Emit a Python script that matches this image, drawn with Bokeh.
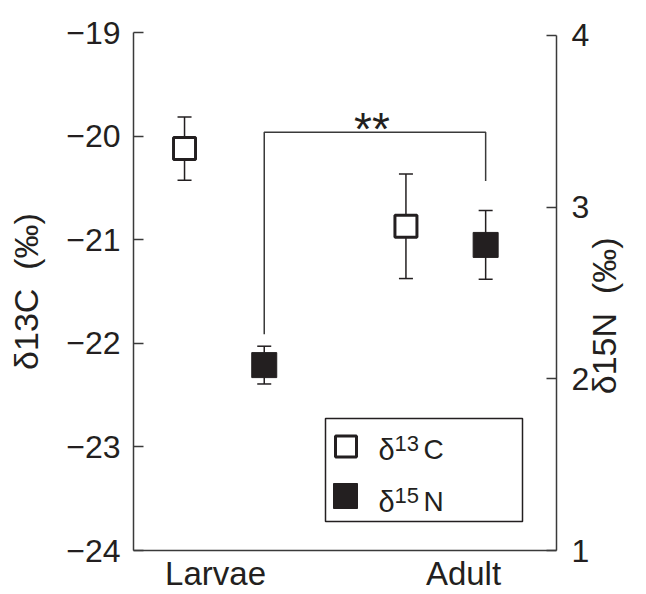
import math
from bokeh.plotting import figure
from bokeh.models import (Range1d, LinearAxis, FixedTicker, CustomJSTickFormatter,
                          Whisker, TeeHead, ColumnDataSource, Label, BoxAnnotation)
from bokeh.embed import file_html
from bokeh.resources import INLINE

# ---------------- data ----------------
categories = ["Larvae", "Adult"]
c13_mean = [-20.12, -20.87]      # δ13C (‰), left axis
c13_se = [0.305, 0.505]
n15_mean = [2.08, 2.78]          # δ15N (‰), right axis
n15_se = [0.11, 0.20]
c13_ticks = [-24, -23, -22, -21, -20, -19]
n15_ticks = [1, 2, 3, 4]
# significance bracket between the two δ15N means (in δ15N units)
bracket_top = 3.437
bracket_left_end = 2.259
bracket_right_end = 3.153
bracket_text = "**"
left_title = "δ13C\u00a0\u00a0(‰)"
right_title = "δ15N\u00a0\u00a0(‰)"

# ---------------- style ----------------
FONT = "Liberation Sans"
TXT = "#231f20"
AX = "#3a3a3a"
offset = 0.36
label_shift = [-0.08, 0.16]
right_title_pos = 1.91

group_x = [2 * i + 1 for i in range(len(categories))]
xc = [g - offset for g in group_x]
xn = [g + offset for g in group_x]

p = figure(width=646, height=594, output_backend="svg", toolbar_location=None,
           x_axis_type=None, y_axis_type=None,
           x_range=Range1d(0.179, 4.0), y_range=Range1d(-24, -19),
           min_border_left=133, min_border_right=90, min_border_top=32, min_border_bottom=42,
           outline_line_color=None, background_fill_color="white", border_fill_color="white")
p.extra_y_ranges = {"n": Range1d(1, 4.0174)}

minus_fmt = CustomJSTickFormatter(code="return tick < 0 ? '\u2212' + Math.abs(tick) : String(tick);")

def style_axis(ax, size="32px", standoff=13):
    ax.axis_line_color = AX
    ax.axis_line_width = 1.5
    ax.major_tick_line_color = AX
    ax.major_tick_line_width = 1.5
    ax.major_tick_in = 10
    ax.major_tick_out = 0
    ax.minor_tick_line_color = None
    ax.major_label_text_font = FONT
    ax.major_label_text_font_size = size
    ax.major_label_text_color = TXT
    ax.major_label_standoff = standoff

ax_left = LinearAxis(ticker=FixedTicker(ticks=c13_ticks), formatter=minus_fmt,
                     axis_label=left_title)
style_axis(ax_left, standoff=13)
ax_left.axis_label_text_font = FONT
ax_left.axis_label_text_font_size = "34px"
ax_left.axis_label_text_font_style = "normal"
ax_left.axis_label_text_color = TXT
ax_left.axis_label_standoff = 18
p.add_layout(ax_left, "left")

ax_right = LinearAxis(y_range_name="n", ticker=FixedTicker(ticks=n15_ticks), bounds=(1, 4))
style_axis(ax_right, standoff=15)
p.add_layout(ax_right, "right")

# right-hand title, written bottom-to-top like the left one
ax_right_title = LinearAxis(y_range_name="n", ticker=FixedTicker(ticks=[right_title_pos]),
                            formatter=CustomJSTickFormatter(args=dict(label=right_title),
                                                            code="return label;"))
style_axis(ax_right_title, size="34px", standoff=12)
ax_right_title.axis_line_color = None
ax_right_title.major_tick_line_color = None
ax_right_title.major_label_orientation = math.pi / 2
p.add_layout(ax_right_title, "right")

ax_bottom = LinearAxis(ticker=FixedTicker(ticks=[g + s for g, s in zip(group_x, label_shift)]),
                       formatter=CustomJSTickFormatter(args=dict(labels=categories),
                                                       code="return labels[index];"))
style_axis(ax_bottom, size="33px", standoff=4)
ax_bottom.major_tick_in = 0
ax_bottom.major_tick_line_color = None
p.add_layout(ax_bottom, "below")

# ---------------- error bars ----------------
src_c = ColumnDataSource(dict(x=xc, y=c13_mean,
                              lo=[m - s for m, s in zip(c13_mean, c13_se)],
                              hi=[m + s for m, s in zip(c13_mean, c13_se)]))
src_n = ColumnDataSource(dict(x=xn, y=n15_mean,
                              lo=[m - s for m, s in zip(n15_mean, n15_se)],
                              hi=[m + s for m, s in zip(n15_mean, n15_se)]))

for src, rn in ((src_c, "default"), (src_n, "n")):
    w = Whisker(source=src, base="x", lower="lo", upper="hi", dimension="height",
                line_color=TXT, line_width=1.5, level="underlay", y_range_name=rn,
                lower_head=TeeHead(size=14, line_color=TXT, line_width=1.5),
                upper_head=TeeHead(size=14, line_color=TXT, line_width=1.5))
    p.add_layout(w)

# ---------------- markers ----------------
p.scatter("x", "y", source=src_c, marker="square", size=22, fill_color="white",
          line_color=TXT, line_width=3)
p.scatter("x", "y", source=src_n, marker="square", size=25, fill_color=TXT,
          line_color=TXT, line_width=1, y_range_name="n")

# ---------------- significance bracket ----------------
p.line(x=[xn[0], xn[0], xn[1], xn[1]],
       y=[bracket_left_end, bracket_top, bracket_top, bracket_right_end],
       y_range_name="n", line_color=AX, line_width=1.5)
p.add_layout(Label(x=(xn[0] + xn[1]) / 2, y=bracket_top, y_range_name="n", text=bracket_text,
                   text_align="center", text_baseline="alphabetic", y_offset=3, x_offset=-3,
                   text_font=FONT, text_font_size="46px", text_color=TXT))

# ---------------- legend (drawn by hand) ----------------
def sbox(**kw):
    return BoxAnnotation(left_units="screen", right_units="screen",
                         top_units="screen", bottom_units="screen", **kw)

p.add_layout(sbox(left=192, right=389, top=132, bottom=29,
                  fill_color=None, line_color=TXT, line_width=1.5, line_alpha=1))
p.add_layout(sbox(left=202, right=223, top=114.5, bottom=93.5,
                  fill_color="white", fill_alpha=1, line_color=TXT, line_width=3, line_alpha=1))
p.add_layout(sbox(left=200, right=224, top=67, bottom=42,
                  fill_color=TXT, fill_alpha=1, line_color=TXT, line_width=1, line_alpha=1))

legend_rows = [("δ", "13", "C", 101), ("δ", "15", "N", 49)]
for d, sup, el, base in legend_rows:
    p.add_layout(Label(x=245, y=base, x_units="screen", y_units="screen", text=d,
                       text_baseline="alphabetic", text_font=FONT, text_font_size="29px", text_color=TXT))
    p.add_layout(Label(x=261, y=base + 6, x_units="screen", y_units="screen", text=sup,
                       text_baseline="alphabetic", text_font=FONT, text_font_size="22px", text_color=TXT))
    p.add_layout(Label(x=290, y=base, x_units="screen", y_units="screen", text=el,
                       text_baseline="alphabetic", text_font=FONT, text_font_size="28px", text_color=TXT))

open("out.html", "w").write(file_html(p, INLINE))
